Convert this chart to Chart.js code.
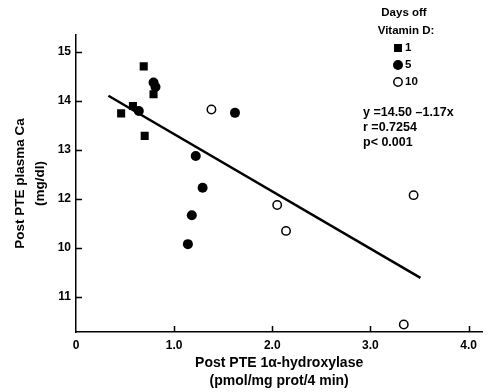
<!DOCTYPE html>
<html>
<head>
<meta charset="utf-8">
<script src="https://cdn.jsdelivr.net/npm/chart.js@4"></script>
<style>
  body { margin: 0; background: #fff; }
  canvas { display: block; }
</style>
</head>
<body>
<canvas id="chart" width="488" height="392"></canvas>
<script>
// values
const day1X = [0.46, 0.58, 0.69, 0.70, 0.79];
const day1Y = [13.75, 13.90, 14.71, 13.29, 14.14];
const day5X = [0.64, 0.79, 0.81, 1.14, 1.18, 1.22, 1.29, 1.62];
const day5Y = [13.80, 14.38, 14.29, 11.08, 11.67, 12.88, 12.23, 13.76];
const day10X = [1.38, 2.05, 2.14, 3.34, 3.44];
const day10Y = [13.83, 11.88, 11.35, 9.44, 12.08];
const fitX = [0.33, 3.51];
const fitY = [14.11, 10.39];

const xTickValues = [0, 1, 2, 3, 4];
const xTickLabels = ['0', '1.0', '2.0', '3.0', '4.0'];
// the original figure prints 10 and 11 in swapped places
const yTickValues = [10, 11, 12, 13, 14, 15];
const yTickLabels = ['11', '10', '12', '13', '14', '15'];

const legendTitle = ['Days off', 'Vitamin D:'];
const legendLabels = ['1', '5', '10'];
const statsLines = ['y =14.50 \u20131.17x', 'r =0.7254', 'p< 0.001'];

const pts = (xs, ys) => xs.map((x, i) => ({ x, y: ys[i] }));

const tickFont = { family: 'Liberation Sans', size: 12, weight: 'bold' };
const xTitleFont = { family: 'Liberation Sans', size: 14, weight: 'bold', lineHeight: 1.35 };
const yTitleFont = { family: 'Liberation Sans', size: 13.5, weight: 'bold', lineHeight: 1.5 };

// inward tick marks + legend and stats text
const extras = {
  id: 'extras',
  afterDraw(chart) {
    const { ctx, scales: { x, y } } = chart;
    ctx.save();
    ctx.strokeStyle = '#000';
    ctx.lineWidth = 1.5;
    ctx.beginPath();
    yTickValues.forEach(v => {
      const py = Math.round(y.getPixelForValue(v)) + 0.5;
      ctx.moveTo(x.left, py);
      ctx.lineTo(x.left + 6, py);
    });
    xTickValues.slice(1).forEach(v => {
      const px = Math.round(x.getPixelForValue(v)) + 0.5;
      ctx.moveTo(px, y.bottom);
      ctx.lineTo(px, y.bottom - 6);
    });
    ctx.stroke();

    ctx.fillStyle = '#000';
    ctx.font = 'bold 11.5px "Liberation Sans"';
    ctx.textBaseline = 'middle';
    ctx.textAlign = 'center';
    ctx.fillText(legendTitle[0], 404, 13);
    ctx.fillText(legendTitle[1], 406, 31);

    ctx.textAlign = 'left';
    ctx.fillRect(394, 44, 8, 8);
    ctx.beginPath();
    ctx.arc(398, 65, 5, 0, Math.PI * 2);
    ctx.fill();
    ctx.beginPath();
    ctx.arc(398, 82, 4.2, 0, Math.PI * 2);
    ctx.stroke();
    ctx.fillText(legendLabels[0], 405, 48);
    ctx.fillText(legendLabels[1], 405, 65);
    ctx.fillText(legendLabels[2], 405, 82);

    ctx.font = 'bold 12.5px "Liberation Sans"';
    statsLines.forEach((t, i) => ctx.fillText(t, 363, 113 + i * 15));
    ctx.restore();
  }
};

new Chart(document.getElementById('chart'), {
  type: 'scatter',
  data: {
    datasets: [
      {
        label: 'fit', type: 'line', data: pts(fitX, fitY),
        borderColor: '#000', borderWidth: 2.5, pointRadius: 0, showLine: true, order: 2
      },
      {
        label: '1', data: pts(day1X, day1Y), pointStyle: 'rect',
        pointRadius: 5.7, backgroundColor: '#000', borderColor: '#000', borderWidth: 0, order: 1
      },
      {
        label: '5', data: pts(day5X, day5Y), pointStyle: 'circle',
        pointRadius: 5, backgroundColor: '#000', borderColor: '#000', borderWidth: 0, order: 1
      },
      {
        label: '10', data: pts(day10X, day10Y), pointStyle: 'circle',
        pointRadius: 4.2, backgroundColor: '#fff', borderColor: '#000', borderWidth: 1.5, order: 1
      }
    ]
  },
  options: {
    responsive: false,
    animation: false,
    layout: { padding: { top: 35, right: 0, left: 0, bottom: 0 } },
    plugins: { legend: { display: false }, tooltip: { enabled: false } },
    scales: {
      x: {
        type: 'linear', min: 0, max: 4.14,
        grid: { display: false, drawTicks: false },
        border: { display: true, color: '#000', width: 1.5 },
        afterBuildTicks: s => { s.ticks = xTickValues.map(v => ({ value: v })); },
        afterFit: s => { s.height = 60; },
        ticks: {
          color: '#000', font: tickFont, padding: 6, maxRotation: 0,
          callback: v => xTickLabels[xTickValues.indexOf(v)]
        },
        title: {
          display: true, color: '#000', font: xTitleFont,
          text: ['Post PTE 1\u03b1-hydroxylase', '(pmol/mg prot/4 min)'],
          padding: { top: 0, bottom: 1 }
        }
      },
      y: {
        type: 'linear', min: 9.286, max: 15.35,
        grid: { display: false, drawTicks: false },
        border: { display: true, color: '#000', width: 1.5 },
        afterBuildTicks: s => { s.ticks = yTickValues.map(v => ({ value: v })); },
        afterFit: s => { s.width = 76; },
        ticks: {
          color: '#000', font: tickFont, padding: 5,
          callback: v => yTickLabels[yTickValues.indexOf(v)]
        },
        title: {
          display: true, color: '#000', font: yTitleFont,
          text: ['Post PTE plasma Ca', '(mg/dl)'],
          padding: { top: 10, bottom: 0 }
        }
      }
    }
  },
  plugins: [extras]
});
</script>
</body>
</html>
